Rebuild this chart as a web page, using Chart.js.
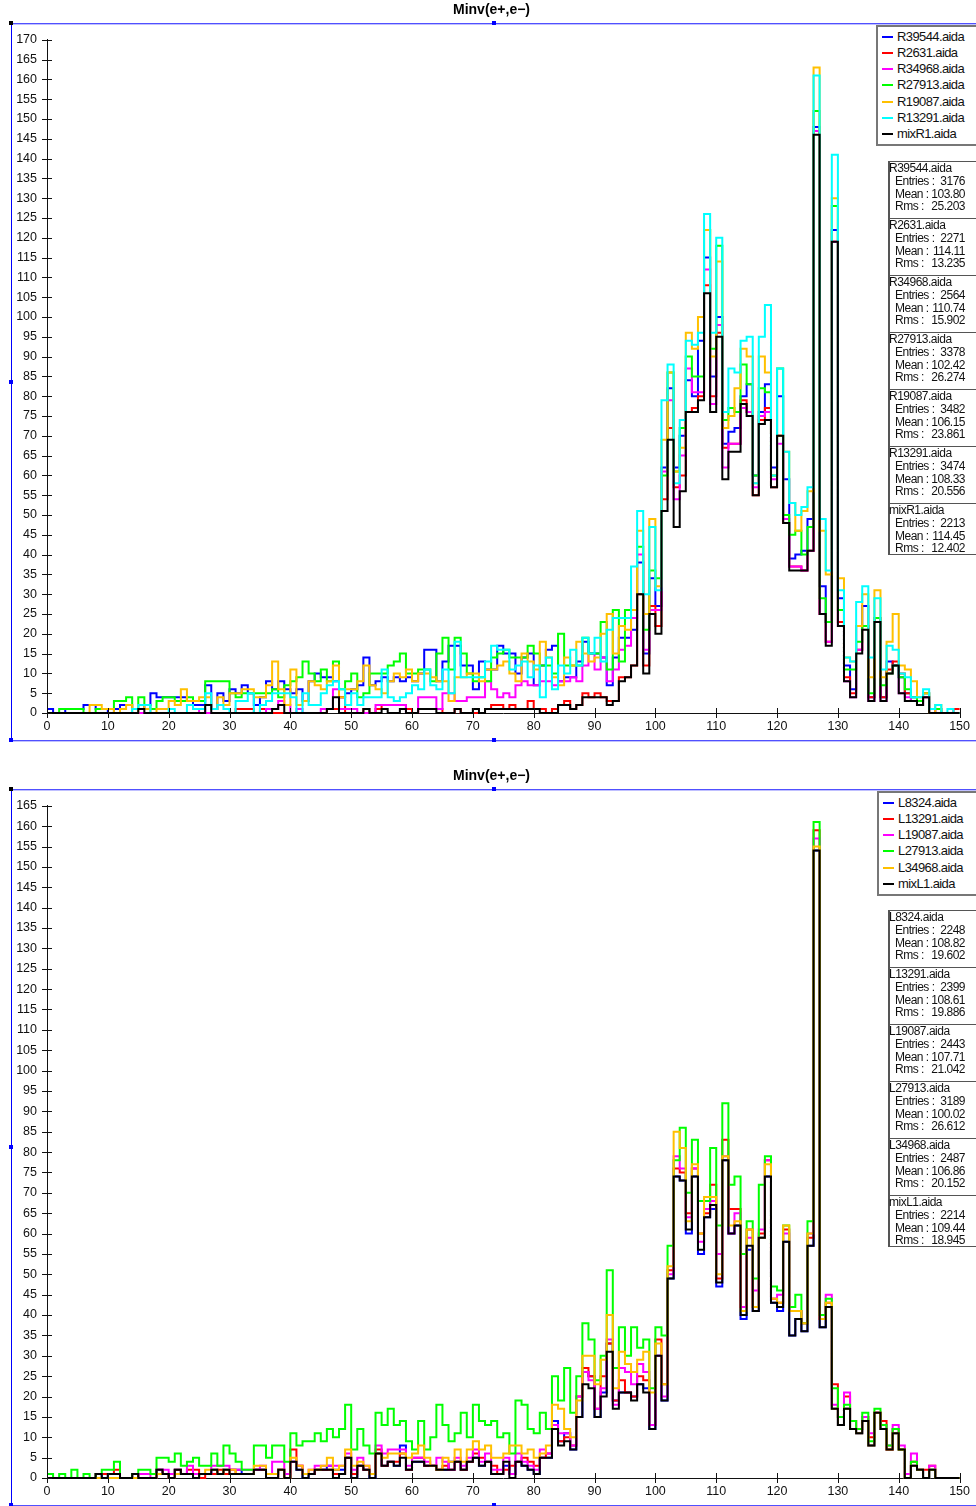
<!DOCTYPE html>
<meta charset="utf8"/>
<style>
html,body{margin:0;padding:0;background:#fff;overflow:hidden;}
body{position:relative;width:976px;height:1506px;font-family:"Liberation Sans",sans-serif;color:#111;}
canvas{position:absolute;left:0;}
.line{position:absolute;background:#5050ff;box-shadow:0 1px 0 #c0c0ff;}
.mark{position:absolute;width:4px;height:4px;background:#00f;}
.legend,.stats{position:absolute;background:#fff;border:1px solid #555;box-sizing:border-box;border-right:0;}
.legend{border-width:2px 0 2px 2px;border-color:#777;font-size:13px;letter-spacing:-.6px;}
.legend div{position:absolute;left:19px;line-height:16px;white-space:nowrap;}
.legend i{position:absolute;left:-15px;top:7px;width:11px;height:2px;}
.stats{font-size:12px;letter-spacing:-.5px;border-width:1px 0 1px 2px;border-color:#555;}
.stats div{position:absolute;left:5px;line-height:13px;white-space:nowrap;}
.stats div.name{left:-1px;}
.stats span{position:absolute;left:0;width:70px;text-align:right;}
</style>

<canvas id="_top" width="976" height="741" style="top:0"></canvas>
<canvas id="_bottom" width="976" height="740" style="top:766px"></canvas>

<script src="https://cdn.jsdelivr.net/npm/chart.js"></script>
<script>
const title = 'Minv(e+,e−)';

// upper plot
const r39544 = [
	1,0,0,1,1,1,2,2,1,1,
	0,1,2,2,1,1,2,5,4,4,
	4,4,4,3,2,2,7,1,5,3,
	6,5,7,5,2,4,8,6,8,6,
	5,6,3,8,10,9,9,8,4,5,
	6,7,14,7,8,9,8,9,8,9,
	8,10,16,16,8,13,17,17,12,12,
	6,13,11,11,17,15,15,10,14,15,
	7,12,16,17,8,9,9,13,18,15,
	15,14,7,14,19,19,21,38,15,34,
	27,62,82,62,70,84,80,94,115,85,
	100,68,71,72,80,83,60,76,83,62,
	80,59,39,40,41,49,148,32,23,122,
	29,12,6,22,27,4,24,4,13,12,
	9,5,4,2,5,0,1,0,0,0];
const r2631 = [
	0,0,0,0,0,0,0,0,0,0,
	0,0,0,0,0,0,0,0,0,0,
	0,0,0,0,0,0,0,0,0,0,
	0,1,1,1,0,1,0,0,0,0,
	0,0,0,0,0,0,1,1,4,0,
	0,0,1,0,1,2,2,2,2,1,
	0,1,1,1,1,0,0,1,0,0,
	0,0,1,2,2,1,2,1,1,3,
	1,1,0,1,2,3,1,2,5,4,
	5,4,3,3,9,9,12,30,12,27,
	22,54,72,57,60,76,77,80,108,80,
	96,67,68,68,79,76,55,74,77,57,
	70,48,37,37,36,41,147,25,18,119,
	23,9,5,16,22,4,24,4,11,13,
	10,5,3,2,4,0,0,0,0,1];
const r34968 = [
	0,0,0,0,0,0,0,0,0,0,
	0,0,0,0,0,0,0,0,0,0,
	0,0,0,0,0,1,0,0,0,0,
	0,0,0,0,0,0,1,1,3,2,
	0,1,0,0,0,1,1,6,1,1,
	1,0,0,0,2,2,2,2,2,0,
	0,4,4,4,1,5,5,3,3,4,
	4,4,8,6,4,5,4,7,8,7,
	7,8,8,7,8,8,9,8,12,15,
	11,14,8,11,16,17,24,40,16,26,
	26,61,79,54,65,87,81,81,112,78,
	98,62,68,68,77,76,57,75,76,59,
	68,49,37,37,36,41,147,25,18,119,
	22,8,4,16,22,3,24,3,10,12,
	5,4,3,3,4,1,0,0,0,0];
const r27913 = [
	0,0,1,1,1,1,0,0,1,1,
	1,3,3,4,1,4,2,1,3,4,
	4,3,3,4,3,3,8,8,8,8,
	5,4,5,5,5,5,5,6,4,7,
	8,9,13,10,8,11,8,13,6,8,
	10,4,5,10,10,10,12,13,15,10,
	10,11,11,8,15,19,11,19,15,10,
	8,9,8,14,15,16,14,14,14,17,
	15,12,12,10,20,12,12,12,19,15,
	15,23,11,26,13,26,26,42,21,36,
	34,60,86,61,72,90,85,85,122,92,
	118,74,77,76,88,83,60,82,81,60,
	87,50,45,46,40,47,152,29,23,128,
	26,11,11,18,22,5,24,7,10,12,
	9,6,4,3,5,1,1,0,0,0];
const r19087 = [
	0,0,0,0,0,0,0,2,2,1,
	1,0,1,2,0,2,1,0,1,1,
	3,2,6,3,3,4,4,1,4,2,
	5,5,6,6,4,4,7,13,6,2,
	11,2,3,8,7,6,8,12,4,6,
	6,8,12,7,6,5,8,10,9,11,
	8,10,10,9,8,8,3,9,9,10,
	10,8,11,11,12,13,10,8,15,13,
	11,18,14,9,7,14,12,18,15,13,
	14,20,25,15,22,21,26,46,25,49,
	32,69,86,61,67,96,92,100,122,90,
	114,72,75,82,92,90,58,90,86,60,
	70,66,53,46,51,56,163,46,35,130,
	34,14,13,22,30,9,31,9,18,25,
	12,11,8,4,5,0,2,0,0,0];
const r13291 = [
	0,0,0,0,0,0,0,0,0,0,
	0,0,0,0,1,2,2,0,0,0,
	1,0,0,2,1,1,5,1,2,1,
	0,3,3,5,0,2,3,5,5,5,
	4,0,5,2,2,5,7,8,6,2,
	5,2,4,4,4,11,4,3,4,5,
	7,6,11,7,6,11,5,18,9,9,
	9,9,13,17,16,16,11,12,13,9,
	12,4,14,6,12,10,16,12,19,15,
	19,13,21,24,24,24,37,51,30,47,
	31,79,88,58,74,94,93,96,126,96,
	120,76,87,86,94,95,58,95,103,60,
	87,66,53,50,52,57,161,49,36,141,
	31,14,13,28,32,14,29,11,17,16,
	10,9,4,4,6,1,2,0,1,0];
const mixR1 = [
	0,0,0,0,0,0,0,0,0,0,
	0,0,0,0,0,1,0,0,0,0,
	0,0,0,0,0,0,2,0,0,0,
	0,0,0,0,0,0,0,1,2,0,
	0,0,0,0,0,0,1,4,0,0,
	0,0,1,0,0,1,0,0,1,0,
	0,1,1,1,0,0,0,1,0,0,
	1,0,1,1,1,1,1,1,1,1,
	1,0,0,0,2,2,1,2,4,4,
	4,4,2,3,8,9,12,30,10,25,
	20,51,69,47,56,76,76,79,106,76,
	95,59,66,66,78,75,55,73,74,57,
	70,48,36,36,36,41,146,25,17,119,
	22,8,4,15,21,3,23,3,10,12,
	5,3,3,2,4,0,0,0,0,0];
const topNames = ['R39544.aida','R2631.aida','R34968.aida','R27913.aida','R19087.aida','R13291.aida','mixR1.aida'];
const topEntries = ['3176','2271','2564','3378','3482','3474','2213'];
const topMean = ['103.80','114.11','110.74','102.42','106.15','108.33','114.45'];
const topRms = ['25.203','13.235','15.902','26.274','23.861','20.556','12.402'];

// lower plot
const l8324 = [
	0,0,0,0,0,0,0,0,1,0,
	1,1,0,0,1,0,0,0,2,1,
	0,2,1,1,0,1,1,2,1,2,
	2,2,1,1,2,2,1,1,2,0,
	4,2,0,1,2,2,3,2,2,5,
	0,3,2,0,6,3,4,3,8,2,
	4,4,3,3,2,2,4,4,2,4,
	5,3,4,1,1,3,1,4,3,2,
	1,5,5,14,9,11,7,15,26,25,
	15,21,33,19,21,21,20,23,22,12,
	30,19,49,74,73,60,74,55,64,66,
	47,78,60,62,39,56,41,59,74,43,
	41,58,35,39,36,57,154,37,42,17,
	13,17,12,11,14,8,16,12,7,11,
	7,0,3,2,0,2,0,0,0,0];
const l13291 = [
	0,0,0,0,0,0,0,0,1,1,
	1,2,0,0,1,0,0,0,2,1,
	0,2,1,2,2,0,1,1,2,1,
	2,1,1,1,2,2,0,0,2,0,
	7,3,1,1,2,2,2,1,1,5,
	1,3,2,1,7,3,4,4,6,2,
	5,5,3,3,2,3,2,4,2,4,
	6,5,4,3,1,2,3,4,5,4,
	3,5,6,13,9,10,8,20,27,25,
	17,25,33,19,24,21,20,25,24,13,
	34,23,51,76,75,65,76,60,65,72,
	49,83,66,66,42,61,42,60,78,44,
	43,61,41,41,38,59,159,39,43,23,
	15,20,14,12,15,10,16,14,7,12,
	7,0,4,2,2,3,0,0,0,0];
const l19087 = [
	0,0,0,0,0,0,0,0,0,0,
	0,0,0,0,1,1,1,0,2,2,
	1,1,1,3,1,1,1,3,3,3,
	2,2,2,2,2,3,1,4,4,1,
	4,3,1,2,3,3,3,3,3,6,
	2,5,3,1,8,6,7,7,7,3,
	5,5,4,3,5,4,2,5,3,5,
	7,4,6,2,2,5,1,6,4,3,
	2,7,6,13,11,11,8,20,26,24,
	17,22,34,18,27,26,23,28,26,13,
	30,20,50,79,76,64,76,58,66,68,
	55,79,60,65,42,59,46,61,78,44,
	45,60,41,41,38,60,157,39,45,18,
	15,21,14,12,15,11,16,13,8,13,
	8,1,6,2,0,3,0,0,0,0];
const l27913 = [
	1,0,1,0,2,0,1,0,1,2,
	2,4,0,0,1,2,2,1,5,5,
	4,6,3,4,5,3,3,6,3,8,
	6,4,2,2,8,8,5,8,8,4,
	11,8,9,9,11,9,12,10,12,18,
	7,12,8,6,16,13,17,13,14,9,
	7,14,7,10,18,13,9,11,16,10,
	18,14,13,14,10,11,6,19,18,12,
	11,16,12,25,19,27,16,25,38,34,
	24,30,51,27,37,30,37,32,34,22,
	37,35,57,78,86,70,83,68,68,81,
	62,92,72,74,55,63,49,72,79,47,
	46,62,42,45,38,63,161,40,44,22,
	15,18,14,12,16,9,17,13,8,12,
	7,0,4,2,0,2,0,0,0,0];
const l34968 = [
	0,0,0,0,0,0,0,0,0,0,
	0,0,0,0,0,0,0,0,1,1,
	0,1,1,1,0,1,2,2,1,2,
	2,1,1,1,3,3,1,1,2,0,
	5,3,1,2,2,3,5,2,3,7,
	3,4,3,1,6,5,6,6,6,5,
	6,8,5,3,2,5,4,7,4,7,
	9,7,8,5,5,6,8,8,6,7,
	5,6,8,18,17,12,10,19,30,30,
	23,29,40,22,31,28,26,29,31,21,
	33,23,52,85,81,63,77,60,69,69,
	50,79,62,63,41,61,42,59,77,44,
	43,62,41,41,38,60,155,39,43,17,
	13,17,12,11,14,8,16,12,7,11,
	7,0,3,2,0,2,0,0,0,0];
const mixL1 = [
	0,0,0,0,0,0,0,0,1,0,
	1,1,0,0,1,0,0,0,2,1,
	0,2,1,1,0,1,1,2,1,2,
	1,1,1,1,2,2,0,0,2,0,
	4,2,0,1,2,2,2,0,1,5,
	0,3,2,0,6,3,4,3,5,2,
	4,4,3,3,2,2,2,4,2,4,
	5,3,4,1,1,4,0,4,3,2,
	1,5,5,12,8,9,7,15,23,22,
	15,20,31,17,21,21,19,23,21,12,
	30,19,49,74,73,61,74,56,64,67,
	48,78,60,62,40,57,41,59,74,43,
	42,58,35,39,36,57,154,37,42,17,
	13,17,12,11,14,8,16,12,7,11,
	7,0,3,2,0,2,0,0,0,0];
const bottomNames = ['L8324.aida','L13291.aida','L19087.aida','L27913.aida','L34968.aida','mixL1.aida'];
const bottomEntries = ['2248','2399','2443','3189','2487','2214'];
const bottomMean = ['108.82','108.61','107.71','100.02','106.86','109.44'];
const bottomRms = ['19.602','19.886','21.042','26.612','20.152','18.945'];

const topColors = ['#0000ff','#ff0000','#ff00ff','#00ff00','#ffc000','#00ffff','#000000'];
const bottomColors = ['#0000ff','#ff0000','#ff00ff','#00ff00','#ffc000','#000000'];

// ticks cross the axis line, chart.js only draws them outwards
const crossTicks = {
	id: 'crossTicks',
	beforeDraw(chart) {
		chart.titleBlock.left = 19; // title is centred on the frame, not the canvas
	},
	afterDatasetsDraw(chart) {
		const {ctx, scales: {x, y}} = chart;
		ctx.save();
		ctx.strokeStyle = '#111';
		ctx.lineWidth = 1;
		ctx.beginPath();
		x.ticks.forEach(t => {
			const p = Math.round(x.getPixelForValue(t.value)) + .5;
			ctx.moveTo(p, y.bottom - 5);
			ctx.lineTo(p, y.bottom + 5);
		});
		y.ticks.forEach(t => {
			const p = Math.round(y.getPixelForValue(t.value)) + .5;
			ctx.moveTo(x.left - 5, p);
			ctx.lineTo(x.left + 5, p);
		});
		ctx.stroke();
		ctx.restore();
	}
};

function histo(values) {
	const pts = values.map((n,i) => ({x: i, y: n}));
	pts.push({x: values.length, y: values[values.length-1]});
	return pts;
}

function makeChart(canvas, names, series, colors, yMax) {
	return new Chart(canvas, {
		type: 'line',
		data: {
			datasets: series.map((s,i) => ({
				label: names[i],
				data: histo(s),
				borderColor: colors[i],
				borderWidth: 2,
				pointRadius: 0,
				stepped: true,
				fill: false,
				clip: false,
				order: series.length - i,
			}))
		},
		options: {
			responsive: false,
			animation: false,
			layout: {autoPadding: false, padding: {left: 7, right: 12, top: 0, bottom: 0}},
			plugins: {
				legend: {display: false},
				tooltip: {enabled: false},
				title: {
					display: true,
					text: title,
					color: '#000',
					font: {family: 'Liberation Sans', size: 14, weight: 'bold'},
					padding: {top: 2, bottom: 21},
				},
			},
			scales: {
				x: {
					type: 'linear',
					min: 0,
					max: 150,
					grid: {display: false, drawTicks: false},
					border: {color: '#111', width: 1},
					afterFit: s => { s.height = 28; },
					ticks: {stepSize: 10, padding: 6, maxRotation: 0, color: '#111', font: {family: 'Liberation Sans', size: 12.5}},
				},
				y: {
					min: 0,
					max: yMax,
					grid: {display: false, drawTicks: false},
					border: {color: '#111', width: 1},
					afterFit: s => { s.width = 40; },
					ticks: {stepSize: 5, padding: 10, autoSkip: false, color: '#111', font: {family: 'Liberation Sans', size: 12.5}},
				},
			},
		},
		plugins: [crossTicks],
	});
}

function addLine(l, t, w, h, color) {
	const d = document.createElement('div');
	d.className = 'line';
	d.style.cssText = 'left:'+l+'px;top:'+t+'px;width:'+w+'px;height:'+h+'px;' + (color ? 'background:'+color+';box-shadow:none' : '');
	document.body.append(d);
}

function addMark(l, t, color) {
	const d = document.createElement('div');
	d.className = 'mark';
	d.style.cssText = 'left:'+l+'px;top:'+t+'px;' + (color ? 'background:'+color : '');
	document.body.append(d);
}

function addFrame(top, bottom) {
	addLine(11, top, 965, 1);
	addLine(11, bottom, 965, 1);
	addLine(11, top, 1, bottom - top, '#0000ff');
	addMark(9, top - 2, '#000');
	addMark(492, top - 2);
	addMark(9, Math.round((top + bottom) / 2) - 2);
	addMark(9, bottom - 2);
	addMark(492, bottom - 2);
}

function addLegend(names, colors, left, top, height) {
	const box = document.createElement('div');
	box.className = 'legend';
	box.style.cssText = 'left:'+left+'px;top:'+top+'px;width:'+(976-left)+'px;height:'+height+'px;';
	names.forEach((n,i) => {
		const row = document.createElement('div');
		row.style.top = (1.5 + i * 16.3) + 'px';
		row.innerHTML = '<i style="background:'+colors[i]+'"></i>' + n;
		box.append(row);
	});
	document.body.append(box);
}

function addStats(names, entries, mean, rms, top, bottom) {
	names.forEach((n,i) => {
		const box = document.createElement('div');
		const t = top + i * 57;
		box.className = 'stats';
		box.style.cssText = 'left:888px;top:'+t+'px;width:88px;height:'+(Math.min(58, bottom - t))+'px;';
		box.innerHTML =
			'<div class="name" style="top:0">'+n+'</div>' +
			'<div style="top:13px">Entries :<span>'+entries[i]+'</span></div>' +
			'<div style="top:25.5px">Mean :<span>'+mean[i]+'</span></div>' +
			'<div style="top:38px">Rms :<span>'+rms[i]+'</span></div>';
		document.body.append(box);
	});
}

makeChart(_top, topNames, [r39544,r2631,r34968,r27913,r19087,r13291,mixR1], topColors, 170);
makeChart(_bottom, bottomNames, [l8324,l13291,l19087,l27913,l34968,mixL1], bottomColors, 165);

addFrame(23, 740);
addFrame(789, 1505);
addLegend(topNames, topColors, 876, 25, 121);
addLegend(bottomNames, bottomColors, 877, 791, 105);
addStats(topNames, topEntries, topMean, topRms, 161, 555);
addStats(bottomNames, bottomEntries, bottomMean, bottomRms, 910, 1247);
</script>
